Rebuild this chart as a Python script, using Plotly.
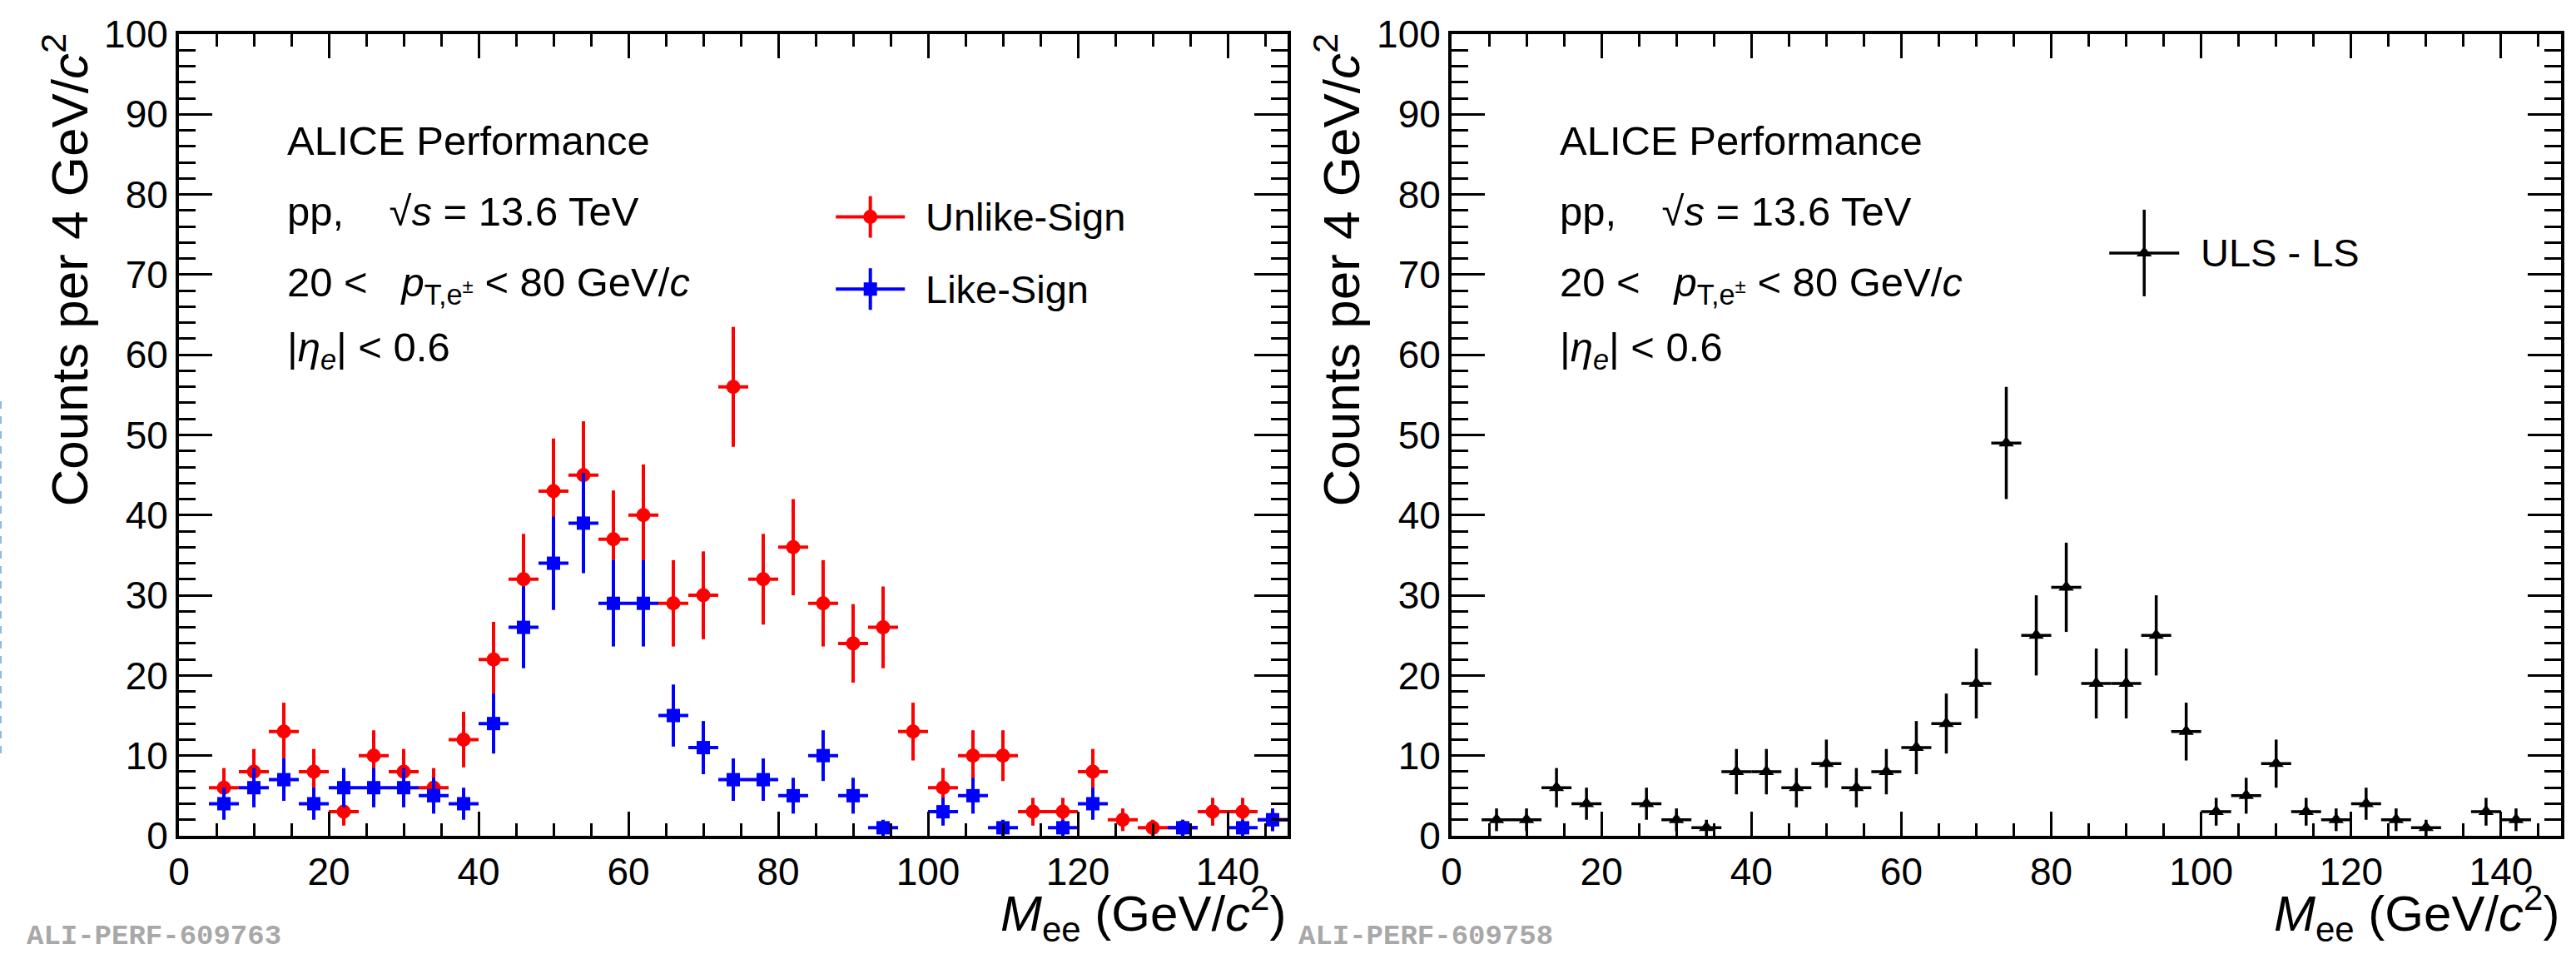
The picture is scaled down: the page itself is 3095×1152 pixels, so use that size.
import numpy as np
import plotly.graph_objects as go

# ---------------- data ----------------
bin_centers = [2, 6, 10, 14, 18, 22, 26, 30, 34, 38, 42, 46, 50, 54, 58, 62, 66, 70, 74,
               78, 82, 86, 90, 94, 98, 102, 106, 110, 114, 118, 122, 126, 130, 134, 138, 142, 146]
bin_width = 4
unlike_sign = [0, 6, 8, 13, 8, 3, 10, 8, 6, 12, 22, 32, 43, 45, 37, 40, 29, 30, 56,
               32, 36, 29, 24, 26, 13, 6, 10, 10, 3, 3, 8, 2, 1, 1, 3, 3, 2]
like_sign = [0, 4, 6, 7, 4, 6, 6, 6, 5, 4, 14, 26, 34, 39, 29, 29, 15, 11, 7,
             7, 5, 10, 5, 1, 0, 3, 5, 1, 0, 1, 4, 0, 0, 1, 0, 1, 2]
uls_minus_ls = [0, 2, 2, 6, 4, -3, 4, 2, 1, 8, 8, 6, 9, 6, 8, 11, 14, 19, 49,
                25, 31, 19, 19, 25, 13, 3, 5, 9, 3, 2, 4, 2, 1, 0, 3, 2, 0]

x_ticks = [0, 20, 40, 60, 80, 100, 120, 140]
y_ticks = [0, 10, 20, 30, 40, 50, 60, 70, 80, 90, 100]
legend_left = ["Unlike-Sign", "Like-Sign"]
legend_right = ["ULS - LS"]
header_lines = [
    "ALICE Performance",
    "pp,\u00a0\u00a0\u00a0\u00a0√<i>s</i> = 13.6 TeV",
    "20 <\u00a0\u00a0\u00a0<i>p</i><sub>T,e<sup>±</sup></sub> < 80 GeV/<i>c</i>",
    "|<i>η</i><sub><i>e</i></sub>| < 0.6",
]
header_y = [86.7, 77.9, 68.7, 60.6]
y_title = "Counts per 4 GeV/<i>c</i><sup>2</sup>"
x_title = "<i>M</i><sub>ee</sub> (GeV/<i>c</i><sup>2</sup>)"
tags = ["ALI-PERF-609763", "ALI-PERF-609758"]

W, H = 3095, 1152
FONT = "Liberation Sans, Arial, Helvetica, sans-serif"
RED, BLUE, BLACK = "#ff0000", "#0000ff", "#000000"


def nonzero(vals):
    xs = [c for c, v in zip(bin_centers, vals) if v > 0]
    ys = [v for v in vals if v > 0]
    return xs, ys


def hist_trace(vals, color, symbol, size, xa, ya, thick):
    xs, ys = nonzero(vals)
    return go.Scatter(
        x=xs, y=ys, mode="markers", xaxis=xa, yaxis=ya, showlegend=False,
        marker=dict(symbol=symbol, size=size, color=color, line=dict(width=0)),
        error_y=dict(type="data", array=list(np.sqrt(ys)), color=color,
                     thickness=thick, width=0),
        error_x=dict(type="constant", value=bin_width / 2, color=color,
                     thickness=thick, width=0),
        cliponaxis=True,
    )


fig = go.Figure()
fig.add_trace(hist_trace(unlike_sign, RED, "circle", 17, "x", "y", 4))
fig.add_trace(hist_trace(like_sign, BLUE, "square", 16, "x", "y", 4))
fig.add_trace(hist_trace(uls_minus_ls, BLACK, "triangle-up", 16, "x2", "y2", 3.5))

xdom_l = [215 / W, 1547 / W]
xdom_r = [1744 / W, 3077 / W]
ydom = [(H - 1004) / H, (H - 41) / H]


def xaxis(dom, anchor):
    return dict(domain=dom, anchor=anchor, range=[0, 148], showgrid=False,
                zeroline=False, showline=True, linewidth=4, linecolor=BLACK,
                mirror="allticks", ticks="inside", ticklen=29, tickwidth=3,
                tickcolor=BLACK, tickmode="array", tickvals=x_ticks,
                ticktext=[str(t) for t in x_ticks], automargin=False,
                minor=dict(ticks="inside", ticklen=15, tickwidth=3, dtick=5,
                           tick0=0, tickcolor=BLACK, showgrid=False),
                tickfont=dict(family=FONT, size=46, color=BLACK), fixedrange=True)


def yaxis(anchor):
    return dict(domain=ydom, anchor=anchor, range=[0, 100], showgrid=False,
                zeroline=False, showline=True, linewidth=4, linecolor=BLACK,
                mirror="allticks", ticks="inside", ticklen=40, tickwidth=3,
                tickcolor=BLACK, tickmode="array", tickvals=y_ticks,
                ticktext=[str(t) for t in y_ticks], automargin=False,
                minor=dict(ticks="inside", ticklen=20, tickwidth=3, dtick=2,
                           tick0=0, tickcolor=BLACK, showgrid=False),
                tickfont=dict(family=FONT, size=46, color=BLACK), fixedrange=True)


annotations = []
shapes = []

for xr, yr in (("x", "y"), ("x2", "y2")):
    for txt, yy in zip(header_lines, header_y):
        annotations.append(dict(text=txt, x=14.2, y=yy, xref=xr, yref=yr,
                                xanchor="left", yanchor="middle", showarrow=False,
                                font=dict(family=FONT, size=49, color=BLACK)))


def legend_key(xr, yr, xc, yc, color, kind, hw, vh, msize, width):
    shapes.append(dict(type="line", xref=xr, yref=yr, xsizemode="pixel", xanchor=xc,
                       x0=-hw, x1=hw, y0=yc, y1=yc, line=dict(color=color, width=width)))
    shapes.append(dict(type="line", xref=xr, yref=yr, xsizemode="pixel", ysizemode="pixel",
                       xanchor=xc, yanchor=yc, x0=0, x1=0, y0=-vh, y1=vh,
                       line=dict(color=color, width=width)))
    r = msize / 2
    if kind == "circle":
        shapes.append(dict(type="circle", xref=xr, yref=yr, xsizemode="pixel", ysizemode="pixel",
                           xanchor=xc, yanchor=yc, x0=-r, x1=r, y0=-r, y1=r,
                           fillcolor=color, line=dict(width=0)))
    elif kind == "square":
        shapes.append(dict(type="rect", xref=xr, yref=yr, xsizemode="pixel", ysizemode="pixel",
                           xanchor=xc, yanchor=yc, x0=-r, x1=r, y0=-r, y1=r,
                           fillcolor=color, line=dict(width=0)))
    else:
        rt = r * 2 / np.sqrt(3)
        path = f"M{-rt:.2f},{-r/2:.2f} L{rt:.2f},{-r/2:.2f} L0,{r:.2f} Z"
        shapes.append(dict(type="path", xref=xr, yref=yr, xsizemode="pixel", ysizemode="pixel",
                           xanchor=xc, yanchor=yc, path=path,
                           fillcolor=color, line=dict(width=0)))


legend_key("x", "y", 92.3, 77.2, RED, "circle", 41.5, 25, 17, 4)
legend_key("x", "y", 92.3, 68.2, BLUE, "square", 41.5, 25, 16, 4)
legend_key("x2", "y2", 92.4, 72.7, BLACK, "triangle", 42, 52, 16, 3.5)

for txt, yy in zip(legend_left, [77.2, 68.2]):
    annotations.append(dict(text=txt, x=99.4, y=yy, xref="x", yref="y", xanchor="left",
                            yanchor="middle", showarrow=False,
                            font=dict(family=FONT, size=47, color=BLACK)))
annotations.append(dict(text=legend_right[0], x=99.7, y=72.7, xref="x2", yref="y2",
                        xanchor="left", yanchor="middle", showarrow=False,
                        font=dict(family=FONT, size=47, color=BLACK)))

# axis titles
for xc, xend in ((78 / W, xdom_l[1]), (1606 / W, xdom_r[1])):
    annotations.append(dict(text=y_title, x=xc, y=(H - 38) / H, xref="paper", yref="paper",
                            xanchor="center", yanchor="top", textangle=-90, showarrow=False,
                            font=dict(family=FONT, size=62, color=BLACK)))
    annotations.append(dict(text=x_title, x=xend, y=(H - 1097) / H, xref="paper", yref="paper",
                            xanchor="right", yanchor="middle", showarrow=False,
                            font=dict(family=FONT, size=60, color=BLACK)))

# performance tags
for tag, xp in zip(tags, (30 / W, 1558 / W)):
    annotations.append(dict(text=f"<b>{tag}</b>", x=xp, y=(H - 1125) / H, xref="paper",
                            yref="paper", xanchor="left", yanchor="middle", showarrow=False,
                            font=dict(family="Liberation Mono, Courier New, monospace",
                                      size=34, color="#a8a8a8")))

# faint dashed strip at the very left edge of the reference image
shapes.append(dict(type="line", xref="paper", yref="paper", x0=1 / W, x1=1 / W,
                   y0=(H - 905) / H, y1=(H - 475) / H,
                   line=dict(color="#8dbbe8", width=2, dash="dash")))

fig.update_layout(
    template="none",
    width=W, height=H, margin=dict(l=0, r=0, t=0, b=0, pad=0, autoexpand=False),
    paper_bgcolor="white", plot_bgcolor="white", showlegend=False,
    font=dict(family=FONT, color=BLACK),
    xaxis=xaxis(xdom_l, "y"), yaxis=yaxis("x"),
    xaxis2=xaxis(xdom_r, "y2"), yaxis2=yaxis("x2"),
    annotations=annotations, shapes=shapes,
)

fig.write_html("out.html", config={"displayModeBar": False},
               post_script="document.body.style.margin='0px';")
